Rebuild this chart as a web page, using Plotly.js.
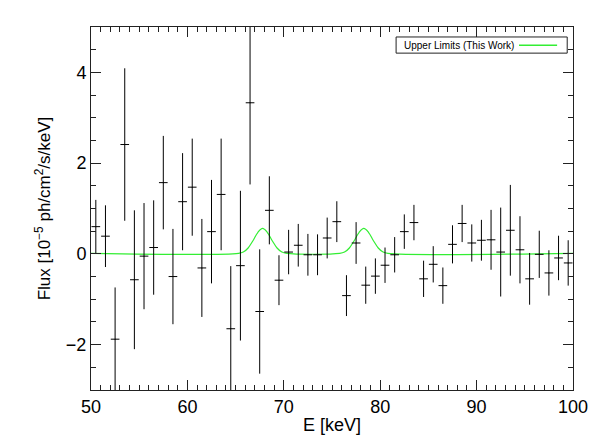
<!DOCTYPE html>
<html>
<head>
<meta charset="utf-8">
<script src="https://cdn.plot.ly/plotly-3.0.1.min.js"></script>
<style>body{margin:0;padding:0;background:#fff;}#chart{width:598px;height:446px;}</style>
</head>
<body>
<div id="chart"></div>
<script>
// Measured spectrum (bin centres in keV)
const energy = [50.5,51.5,52.5,53.5,54.5,55.5,56.5,57.5,58.5,59.5,
                60.5,61.5,62.5,63.5,64.5,65.5,66.5,67.5,68.5,69.5,
                70.5,71.5,72.5,73.5,74.5,75.5,76.5,77.5,78.5,79.5,
                80.5,81.5,82.5,83.5,84.5,85.5,86.5,87.5,88.5,89.5,
                90.5,91.5,92.5,93.5,94.5,95.5,96.5,97.5,98.5,99.5];
const flux = [0.60,0.39,-1.88,2.41,-0.57,-0.05,0.14,1.57,-0.50,1.15,
              1.47,-0.31,0.49,1.31,-1.65,-0.26,3.33,-1.27,0.96,-0.58,
              0.04,0.19,-0.02,-0.02,0.35,0.71,-0.92,0.24,-0.69,-0.49,
              -0.25,-0.02,0.49,0.69,-0.55,-0.23,-0.70,0.21,0.67,0.24,
              0.30,0.31,0.04,0.52,0.09,-0.55,-0.01,-0.42,-0.09,-0.20];
const fluxErr = [0.59,0.68,1.14,1.68,1.53,1.17,1.04,1.03,1.05,1.07,
                 1.07,1.08,1.14,1.23,1.38,1.65,1.80,1.37,0.75,0.55,
                 0.49,0.47,0.46,0.45,0.45,0.45,0.45,0.46,0.41,0.39,
                 0.39,0.39,0.38,0.39,0.40,0.40,0.40,0.42,0.41,0.41,
                 0.45,0.66,0.98,1.00,0.74,0.57,0.52,0.50,0.49,0.50];
const binHalf = [0.45,0.45,0.45,0.45,0.45,0.45,0.45,0.45,0.45,0.45,
                 0.45,0.45,0.45,0.45,0.45,0.45,0.45,0.45,0.45,0.45,
                 0.45,0.45,0.45,0.45,0.45,0.45,0.45,0.45,0.45,0.45,
                 0.45,0.45,0.45,0.45,0.45,0.45,0.45,0.45,0.45,0.45,
                 0.45,0.45,0.45,0.45,0.45,0.45,0.45,0.45,0.45,0.45];

// Upper-limit curve, points
const limitE = [50,65.3,65.8,66.3,66.8,67.3,67.8,68.3,68.8,69.3,69.8,70.3,
                75.8,76.3,76.8,77.3,77.8,78.3,78.8,79.3,79.8,80.3,80.8,100];
const limitFlux = [0.01,0.01,0.04,0.13,0.29,0.47,0.56,0.47,0.29,0.13,0.04,0.01,
                   0.01,0.04,0.13,0.29,0.47,0.56,0.47,0.29,0.13,0.04,0.01,0.01];

const legendLabel = 'Upper Limits (This Work)';

const traces = [
  {
    x: limitE, y: limitFlux, type: 'scatter', mode: 'lines',
    line: {color: '#33ee33', width: 1.2, shape: 'spline', smoothing: 1.0},
    name: legendLabel, hoverinfo: 'skip'
  },
  {
    x: energy, y: flux, type: 'scatter', mode: 'markers',
    marker: {size: 1, color: 'black'},
    error_y: {type: 'data', array: fluxErr, visible: true, color: 'black', thickness: 1, width: 0},
    error_x: {type: 'data', array: binHalf, visible: true, color: 'black', thickness: 1, width: 0},
    name: 'data', hoverinfo: 'skip'
  }
];

const axisFont = {family: 'Liberation Sans, Arial, sans-serif', size: 18, color: 'black'};

const layout = {
  width: 598, height: 446,
  margin: {l: 91, r: 25, t: 27, b: 56},
  paper_bgcolor: 'white', plot_bgcolor: 'white',
  showlegend: false,
  font: axisFont,
  xaxis: {
    range: [50, 100], dtick: 10, tick0: 50,
    ticks: 'inside', ticklen: 10, tickwidth: 1, tickcolor: '#222',
    minor: {dtick: 1, ticks: 'inside', ticklen: 5, tickwidth: 1, tickcolor: '#222', showgrid: false},
    showline: true, linecolor: '#222', linewidth: 1, mirror: 'allticks',
    showgrid: false, zeroline: false,
    tickfont: axisFont,
    title: {text: 'E [keV]', font: axisFont, standoff: 2}
  },
  yaxis: {
    range: [-3, 5], dtick: 2, tick0: 0,
    ticks: 'inside', ticklen: 10, tickwidth: 1, tickcolor: '#222',
    minor: {dtick: 0.5, ticks: 'inside', ticklen: 5, tickwidth: 1, tickcolor: '#222', showgrid: false},
    showline: true, linecolor: '#222', linewidth: 1, mirror: 'allticks',
    showgrid: false, zeroline: false,
    tickfont: axisFont,
    title: {text: 'Flux [10<sup>−5</sup> ph/cm<sup>2</sup>/s/keV]', font: {family: 'Liberation Sans, Arial, sans-serif', size: 17, color: 'black'}, standoff: 10}
  },
  annotations: [{
    xref: 'paper', yref: 'paper', x: 0.645, y: 0.950, xanchor: 'left', yanchor: 'middle',
    text: legendLabel, showarrow: false, align: 'left',
    font: {family: 'Liberation Sans, Arial, sans-serif', size: 10, color: 'black'}
  }],
  shapes: [
    {
      type: 'rect', xref: 'paper', yref: 'paper', layer: 'above',
      x0: 0.633, x1: 0.988, y0: 0.928, y1: 0.9725,
      line: {color: '#222', width: 1}, fillcolor: 'rgba(0,0,0,0)'
    },
    {
      type: 'line', xref: 'paper', yref: 'paper', layer: 'above',
      x0: 0.888, x1: 0.967, y0: 0.950, y1: 0.950,
      line: {color: '#33ee33', width: 1.5}
    }
  ]
};

Plotly.newPlot('chart', traces, layout, {staticPlot: true, displayModeBar: false});
</script>
</body>
</html>
